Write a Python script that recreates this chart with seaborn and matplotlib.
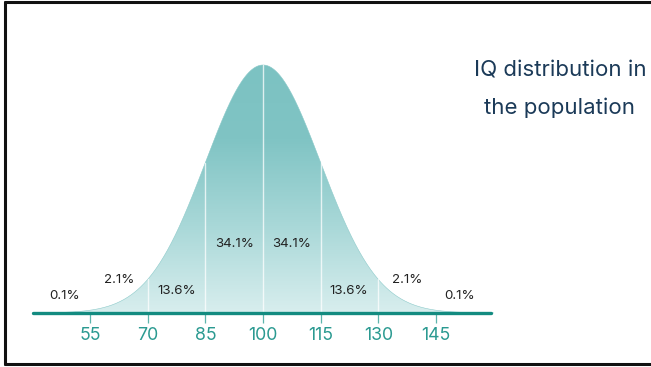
import numpy as np
import pandas as pd
import matplotlib
matplotlib.use("Agg")
import matplotlib.pyplot as plt
from matplotlib.colors import LinearSegmentedColormap
from matplotlib.lines import Line2D
import seaborn as sns

sns.set_theme(style="white")
plt.rcParams["font.family"] = ["Inter", "DejaVu Sans"]

# Distribution parameters
MEAN = 100
SD = 15

# Tick positions along the IQ axis
tick_values = [55, 70, 85, 100, 115, 130, 145]
tick_labels = ["55", "70", "85", "100", "115", "130", "145"]

# Share of the population in each band
band_labels = ["0.1%", "2.1%", "13.6%", "34.1%", "34.1%", "13.6%", "2.1%", "0.1%"]
band_label_x = [48.5, 62.5, 77.6, 92.5, 107.4, 122.4, 137.5, 151.2]
band_label_y = [0.069, 0.133, 0.089, 0.278, 0.278, 0.089, 0.133, 0.069]

# Boundaries drawn as thin lines inside the curve
divider_values = [70, 85, 100, 115, 130]

title_lines = ["IQ distribution in", "the population"]

iq = np.linspace(40, 160, 601)
density = np.exp(-0.5 * ((iq - MEAN) / SD) ** 2)
curve = pd.DataFrame({"iq": iq, "density": density})

W, H = 651, 367
fig = plt.figure(figsize=(W / 100, H / 100), dpi=100)
ax = fig.add_axes([0, 0, 1, 1])

# Map the data space onto the canvas
px_per_unit = 3.844
x_center_px = 263
base_px, peak_px = 313, 65
ax.set_xlim(MEAN - x_center_px / px_per_unit, MEAN + (W - x_center_px) / px_per_unit)
ax.set_ylim(-(H - base_px) / (base_px - peak_px), base_px / (base_px - peak_px))

# Curve outline (same tone as the fill so the edge stays soft)
sns.lineplot(data=curve, x="iq", y="density", ax=ax, color="#8ccaca", linewidth=0.4)

# Gradient fill clipped to the area under the curve
poly = ax.fill_between(curve["iq"], 0, curve["density"], color="none")
cmap = LinearSegmentedColormap.from_list(
    "teal_fade", [(0.0, "#d8eeee"), (0.35, "#a9d8d8"), (0.7, "#80c4c4"), (1.0, "#7cc2c2")]
)
grad = np.linspace(0, 1, 256).reshape(-1, 1)
img = ax.imshow(grad, extent=[40, 160, 0, 1], origin="lower", cmap=cmap,
                aspect="auto", zorder=1)
clip_path = poly.get_paths()[0]
img.set_clip_path(clip_path, transform=ax.transData)

# Vertical dividers at each standard deviation
for v in divider_values:
    top = np.exp(-0.5 * ((v - MEAN) / SD) ** 2)
    ax.plot([v, v], [0, top], color="white", alpha=0.75, linewidth=1.0, zorder=2)

# Band percentages
for lab, x, y in zip(band_labels, band_label_x, band_label_y):
    ax.text(x, y, lab, ha="center", va="center", fontsize=9.6, color="#222222", zorder=3)

# Baseline axis with ticks
for side in ["top", "left", "right"]:
    ax.spines[side].set_visible(False)
ax.spines["bottom"].set_position(("data", 0))
ax.spines["bottom"].set_bounds(40.2, 159.3)
ax.spines["bottom"].set_color("#138b80")
ax.spines["bottom"].set_linewidth(2.4)
ax.spines["bottom"].set_capstyle("round")
ax.spines["bottom"].set_zorder(4)
ax.set_xticks(tick_values)
ax.set_xticklabels(tick_labels)
ax.set_yticks([])
ax.tick_params(axis="x", direction="out", length=7, width=0.9, color="#5db5ad",
               labelsize=12.8, labelcolor="#2b9a91", pad=3, bottom=True)
ax.set_xlabel("")
ax.set_ylabel("")
ax.grid(False)

# Title at the upper right
fig.text(560 / W, 1 - 70 / H, title_lines[0], ha="center", va="center",
         fontsize=16, color="#1b3a58")
fig.text(560 / W, 1 - 108 / H, title_lines[1], ha="center", va="center",
         fontsize=16, color="#1b3a58")

# Frame along the left, top and bottom edges
frame = dict(color="#111111", linewidth=2.2, transform=fig.transFigure, figure=fig)
fig.add_artist(Line2D([5 / W, 5 / W], [1 - 2 / H, 1 - 364 / H], **frame))
fig.add_artist(Line2D([5 / W, 1], [1 - 2 / H, 1 - 2 / H], **frame))
fig.add_artist(Line2D([5 / W, 1], [1 - 364 / H, 1 - 364 / H], **frame))

fig.savefig("out.png", dpi=100, facecolor="white")
